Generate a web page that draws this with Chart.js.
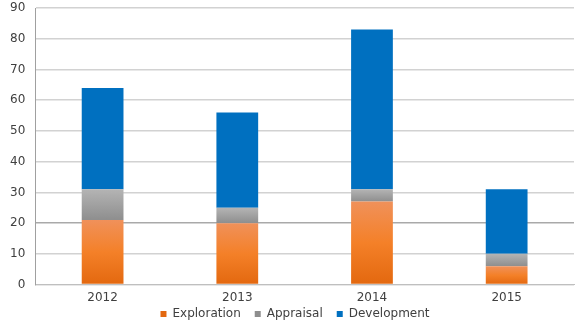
<!DOCTYPE html>
<html>
<head>
<meta charset="utf-8">
<script src="https://cdn.jsdelivr.net/npm/chart.js@4"></script>
<style>
  html, body { margin: 0; padding: 0; background: #fff; }
  #wrap { width: 585px; height: 326px; }
</style>
</head>
<body>
<div id="wrap"><canvas id="wellsChart"></canvas></div>
<script>
// Wells drilled per year, by type
const years = ['2012', '2013', '2014', '2015'];
const exploration = [21, 20, 27, 6];
const appraisal = [10, 5, 4, 4];
const development = [33, 31, 52, 21];
const yTicks = [0, 10, 20, 30, 40, 50, 60, 70, 80, 90];

// Vertical gradient over one stacked segment (base = values under it)
function segmentGradient(ctx, base, values, stops, fallback) {
    const chart = ctx.chart;
    const y = chart.scales.y;
    if (ctx.type !== 'data' || !y || !chart.chartArea) return fallback;
    const i = ctx.dataIndex;
    const start = base ? base[i] : 0;
    const top = y.getPixelForValue(start + values[i]);
    const bottom = y.getPixelForValue(start);
    if (!isFinite(top) || !isFinite(bottom)) return fallback;
    const g = chart.ctx.createLinearGradient(0, top, 0, bottom);
    stops.forEach(([pos, col]) => g.addColorStop(pos, col));
    return g;
}

// Legend keeps its wide item spacing but reserves less height,
// and sits a bit right of centre
const legendTweak = {
    id: 'legendTweak',
    afterInit(chart) {
        const lg = chart.legend;
        if (!lg) return;
        const fit = lg.fit;
        lg.fit = function() {
            fit.call(this);
            this.height -= 9;
        };
    },
    afterLayout(chart) {
        const lg = chart.legend;
        if (!lg) return;
        lg.top -= 9;
        lg.bottom -= 9;
        lg.left += 16;
    }
};

const font = { family: 'DejaVu Sans', size: 12 };

new Chart(document.getElementById('wellsChart'), {
    type: 'bar',
    data: {
        labels: years,
        datasets: [
            {
                label: 'Exploration',
                data: exploration,
                backgroundColor: ctx => segmentGradient(ctx, null, exploration,
                    [[0, '#f0915a'], [0.5, '#f48028'], [1, '#e3680f']], '#f47f2a')
            },
            {
                label: 'Appraisal',
                data: appraisal,
                backgroundColor: ctx => segmentGradient(ctx, exploration, appraisal,
                    [[0, '#b4b4b4'], [1, '#8e8e8e']], '#a6a6a6')
            },
            {
                label: 'Development',
                data: development,
                backgroundColor: '#0070c0'
            }
        ]
    },
    plugins: [legendTweak],
    options: {
        responsive: true,
        maintainAspectRatio: false,
        animation: false,
        layout: { padding: { top: 8, right: 11, left: 0, bottom: -4 } },
        datasets: {
            bar: { categoryPercentage: 1, barPercentage: 0.31, borderWidth: 0 }
        },
        plugins: {
            legend: {
                position: 'bottom',
                labels: {
                    color: '#404040',
                    boxWidth: 6,
                    boxHeight: 6,
                    padding: 14,
                    font: font
                }
            },
            tooltip: { enabled: false }
        },
        scales: {
            x: {
                stacked: true,
                grid: { display: false },
                border: { color: '#bfbfbf' },
                ticks: { color: '#404040', padding: -2, font: font }
            },
            y: {
                stacked: true,
                min: 0,
                max: 90,
                afterBuildTicks: axis => { axis.ticks = yTicks.map(v => ({ value: v })); },
                afterFit: axis => { axis.paddingTop = 0; },
                grid: {
                    color: ctx => ctx.tick && ctx.tick.value === 20 ? '#a9a9a9' : '#d2d2d2',
                    lineWidth: 1.5,
                    drawTicks: false
                },
                border: { color: '#a0a0a0' },
                ticks: { color: '#404040', padding: 10, font: font }
            }
        }
    }
});
</script>
</body>
</html>
